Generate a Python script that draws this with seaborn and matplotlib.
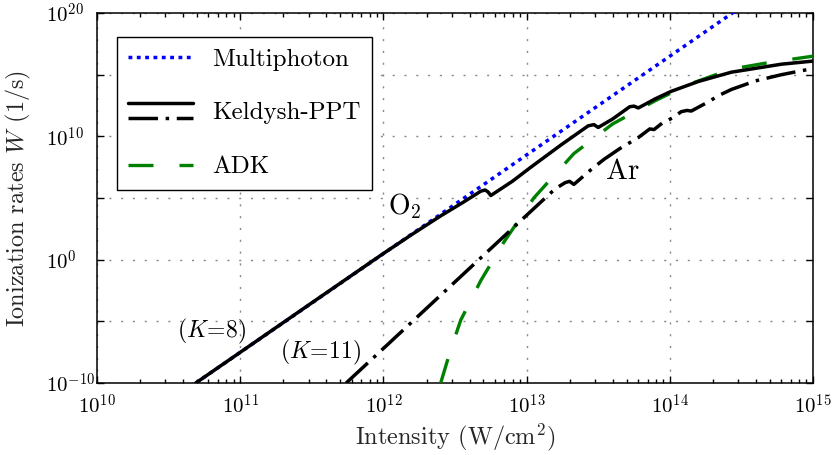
import numpy as np
import pandas as pd
import matplotlib
matplotlib.use("Agg")
import matplotlib.pyplot as plt
import seaborn as sns
from matplotlib.lines import Line2D
from matplotlib.legend_handler import HandlerBase
from matplotlib.ticker import LogLocator, NullLocator

# Valores (log10 de intensidad en W/cm2 y log10 de la tasa en 1/s)
mp_logI = [10.69, 14.5]
mp_logW = [-10.0, 20.5]

o2_logI = [10.69, 11.5, 12.0, 12.2, 12.4, 12.55, 12.68, 12.71, 12.73, 12.75,
           12.9, 13.03, 13.24, 13.43, 13.47, 13.50, 13.6, 13.72, 13.75, 13.78,
           13.9, 14.01, 14.2, 14.43, 14.78, 15.0]
o2_logW = [-10.0, -3.5, 0.5, 2.05, 3.55, 4.6, 5.55, 5.65, 5.5, 5.2,
           6.35, 7.5, 9.3, 10.85, 10.95, 10.72, 11.4, 12.4, 12.45, 12.3,
           13.05, 13.65, 14.45, 15.2, 15.85, 16.1]

ar_logI = [11.74, 12.0, 12.5, 13.0, 13.2, 13.27, 13.30, 13.33, 13.45, 13.54,
           13.65, 13.78, 13.86, 13.89, 13.95, 14.02, 14.08, 14.12, 14.15, 14.27,
           14.34, 14.43, 14.6, 14.78, 15.0]
ar_logW = [-10.0, -7.2, -1.8, 3.6, 5.75, 6.25, 6.35, 6.1, 7.3, 8.13,
           9.0, 9.9, 10.6, 10.55, 11.1, 11.5, 12.0, 12.1, 12.05, 12.8,
           13.3, 13.8, 14.5, 15.0, 15.5]

adk_logI = [12.40, 12.47, 12.54, 12.68, 12.84, 13.05, 13.33, 13.6, 13.9, 14.13,
            14.43, 14.7, 15.0]
adk_logW = [-10.0, -7.3, -4.9, -1.7, 1.4, 5.0, 8.6, 11.0, 12.9, 14.2,
            15.45, 16.0, 16.5]

x_tick_exp = [10, 11, 12, 13, 14, 15]
x_tick_labels = ["$10^{10}$", "$10^{11}$", "$10^{12}$", "$10^{13}$", "$10^{14}$", "$10^{15}$"]
y_tick_exp = [-10, -5, 0, 5, 10, 15, 20]
y_tick_labels = ["$10^{-10}$", "", "$10^{0}$", "", "$10^{10}$", "", "$10^{20}$"]

legend_labels = ["Multiphoton", "Keldysh-PPT", "ADK"]


def curva(logI, logW):
    return pd.DataFrame({"I": 10.0 ** np.array(logI), "W": 10.0 ** np.array(logW)})


class DosLineas(HandlerBase):
    # dibuja dos lineas una encima de otra para la entrada Keldysh-PPT
    def create_artists(self, legend, orig_handle, xdescent, ydescent,
                       width, height, fontsize, trans):
        arts = []
        for h, dy in zip(orig_handle, (5.5, -5.5)):
            y = height / 2.0 - ydescent + dy
            ln = Line2D([-xdescent, width - xdescent], [y, y])
            ln.update_from(h)
            ln.set_transform(trans)
            arts.append(ln)
        return arts


sns.set_theme(style="ticks")
plt.rcParams.update({
    "font.family": ["cmr10", "DejaVu Serif"],
    "mathtext.fontset": "cm",
    "axes.formatter.use_mathtext": True,
    "axes.unicode_minus": False,
    "axes.linewidth": 1.1,
    "axes.edgecolor": "black",
    "xtick.color": "black",
    "ytick.color": "black",
    "text.color": "black",
})

fig = plt.figure(figsize=(8.34, 4.55), dpi=100)
ax = fig.add_axes([97 / 834, 1 - 383 / 455, 716 / 834, 370 / 455])
ax.set_xscale("log")
ax.set_yscale("log")

sns.lineplot(data=curva(mp_logI, mp_logW), x="I", y="W", ax=ax, color="#0000ff",
             lw=2.5, linestyle=(0, (1.1, 1.3)), zorder=3)
h_mp = ax.lines[-1]
sns.lineplot(data=curva(adk_logI, adk_logW), x="I", y="W", ax=ax, color="#008000",
             lw=2.4, linestyle=(0, (7.5, 7.8)), zorder=3)
h_adk = ax.lines[-1]
sns.lineplot(data=curva(ar_logI, ar_logW), x="I", y="W", ax=ax, color="black",
             lw=2.5, linestyle=(0, (8.5, 2.2, 1.0, 2.2)), zorder=4)
h_ar = ax.lines[-1]
sns.lineplot(data=curva(o2_logI, o2_logW), x="I", y="W", ax=ax, color="black",
             lw=2.5, linestyle="-", zorder=5)
h_o2 = ax.lines[-1]

ax.set_xlim(1e10, 1e15)
ax.set_ylim(1e-10, 1e20)
ax.set_xticks([10.0 ** e for e in x_tick_exp], x_tick_labels)
ax.xaxis.set_minor_locator(LogLocator(base=10, subs=np.arange(2, 10), numticks=20))
ax.set_yticks([10.0 ** e for e in y_tick_exp], y_tick_labels)
ax.yaxis.set_minor_locator(NullLocator())

ax.tick_params(which="both", direction="in", top=True, right=True, width=1.0)
ax.tick_params(which="major", length=5)
ax.tick_params(which="minor", length=3)
ax.tick_params(axis="x", labelsize=15, pad=8)
ax.tick_params(axis="y", labelsize=15, pad=37)
for lab in ax.get_yticklabels():
    lab.set_horizontalalignment("left")

ax.grid(True, which="major", color="#888888", lw=1.0, linestyle=(0, (1.5, 7)))

ax.set_xlabel("Intensity (W/cm$^2$)", fontsize=17.5)
ax.set_ylabel("Ionization rates $W$ (1/s)", fontsize=17.5)
ax.xaxis.set_label_coords(0.5, -0.105)
ax.yaxis.set_label_coords(-0.09, 0.5)

ax.text(10 ** 12.15, 10 ** 4.3, "O$_2$", fontsize=20, ha="center", va="center")
ax.text(10 ** 13.67, 10 ** 7.15, "Ar", fontsize=21, ha="center", va="center")
ax.text(10 ** 10.80, 10 ** -5.85, r"$(K\!=\!8)$", fontsize=17, ha="center", va="center")
ax.text(10 ** 11.56, 10 ** -7.5, r"$(K\!=\!11)$", fontsize=17, ha="center", va="center")

leg = ax.legend([h_mp, (h_o2, h_ar), h_adk], legend_labels,
                handler_map={tuple: DosLineas()},
                loc="upper left", bbox_to_anchor=(117 / 834, 1 - 37 / 455),
                bbox_transform=fig.transFigure, borderaxespad=0,
                fontsize=18, handlelength=2.6, handletextpad=0.76,
                labelspacing=1.25, borderpad=0.45, fancybox=False,
                frameon=True, framealpha=1)
leg.get_frame().set_edgecolor("black")
leg.get_frame().set_linewidth(1.0)

fig.savefig("out.png", dpi=100)
